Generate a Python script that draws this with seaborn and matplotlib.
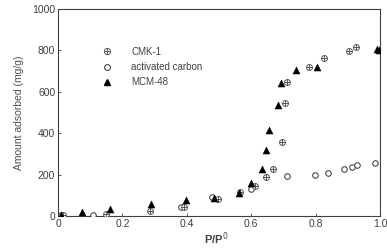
import numpy as np
import pandas as pd
import seaborn as sns
import matplotlib.pyplot as plt
from matplotlib.lines import Line2D

# relative pressure / amount adsorbed (mg/g)
cmk_p = [0.015, 0.15, 0.285, 0.39, 0.497, 0.565, 0.612, 0.646, 0.667, 0.695,
         0.705, 0.712, 0.78, 0.827, 0.904, 0.925]
cmk_q = [4, 10, 23, 42, 81, 115, 145, 190, 227, 356,
         547, 646, 721, 763, 799, 815]

ac_p = [0.01, 0.11, 0.383, 0.477, 0.598, 0.71, 0.798, 0.837, 0.889, 0.912,
        0.928, 0.984]
ac_q = [3, 5, 44, 90, 130, 193, 198, 209, 225, 238,
        246, 254]

mcm_p = [0.008, 0.073, 0.16, 0.288, 0.396, 0.484, 0.563, 0.598, 0.633, 0.646,
         0.656, 0.684, 0.692, 0.738, 0.803, 0.99, 0.998]
mcm_q = [5, 18, 34, 60, 76, 89, 113, 161, 228, 320,
         415, 536, 640, 705, 718, 808, 800]

series = ["CMK-1", "activated carbon", "MCM-48"]

sns.set_style("ticks")
plt.rcParams["font.family"] = ["Liberation Sans", "DejaVu Sans"]

fig = plt.figure(figsize=(3.87, 2.48), dpi=100)
ax = fig.add_axes([0.150, 0.129, 0.832, 0.835])

sns.scatterplot(x=ac_p, y=ac_q, ax=ax, marker="o", s=16, facecolor="white",
                edgecolor="#333333", linewidth=0.7, zorder=3)
sns.scatterplot(x=cmk_p, y=cmk_q, ax=ax, marker="o", s=18, facecolor="white",
                edgecolor="#555555", linewidth=0.7, zorder=4)
sns.scatterplot(x=cmk_p, y=cmk_q, ax=ax, marker="+", s=18, color="#555555",
                linewidth=0.7, zorder=5)
sns.scatterplot(x=mcm_p, y=mcm_q, ax=ax, marker="^", s=26, color="black",
                edgecolor="black", linewidth=0.3, zorder=6)

ax.set_xlim(0, 1.0)
ax.set_ylim(0, 1000)
ax.set_xticks([0, 0.2, 0.4, 0.6, 0.8, 1.0])
ax.set_xticklabels(["0", "0.2", "0.4", "0.6", "0.8", "1.0"])
ax.set_yticks([0, 200, 400, 600, 800, 1000])
ax.tick_params(direction="in", length=2, width=0.6, labelsize=7.5,
               labelcolor="#404040", color="#404040", pad=2)
for sp in ax.spines.values():
    sp.set_color("#404040")
    sp.set_linewidth(0.8)

ax.set_ylabel("Amount adsorbed (mg/g)", fontsize=7.5, color="#505050", labelpad=6)
ax.set_xlabel("P/P$^0$", fontsize=8, fontweight="bold", color="#404040")
ax.xaxis.set_label_coords(0.49, -0.07)
ax.xaxis.label.set_va("top")

# legend with composite marker for CMK-1
h_cmk = (Line2D([], [], ls="none", marker="o", ms=4.5, mfc="white", mec="#555555", mew=0.7),
         Line2D([], [], ls="none", marker="+", ms=4.5, color="#555555", mew=0.7))
h_ac = Line2D([], [], ls="none", marker="o", ms=4.2, mfc="white", mec="#333333", mew=0.7)
h_mcm = Line2D([], [], ls="none", marker="^", ms=5.0, color="black")
leg = ax.legend([h_cmk, h_ac, h_mcm], series, loc="upper left",
                bbox_to_anchor=(0.11, 0.86), frameon=False, fontsize=7,
                labelspacing=0.55, handletextpad=2.0, handlelength=1.0,
                labelcolor="#404040")

fig.savefig("out.png", dpi=100)
